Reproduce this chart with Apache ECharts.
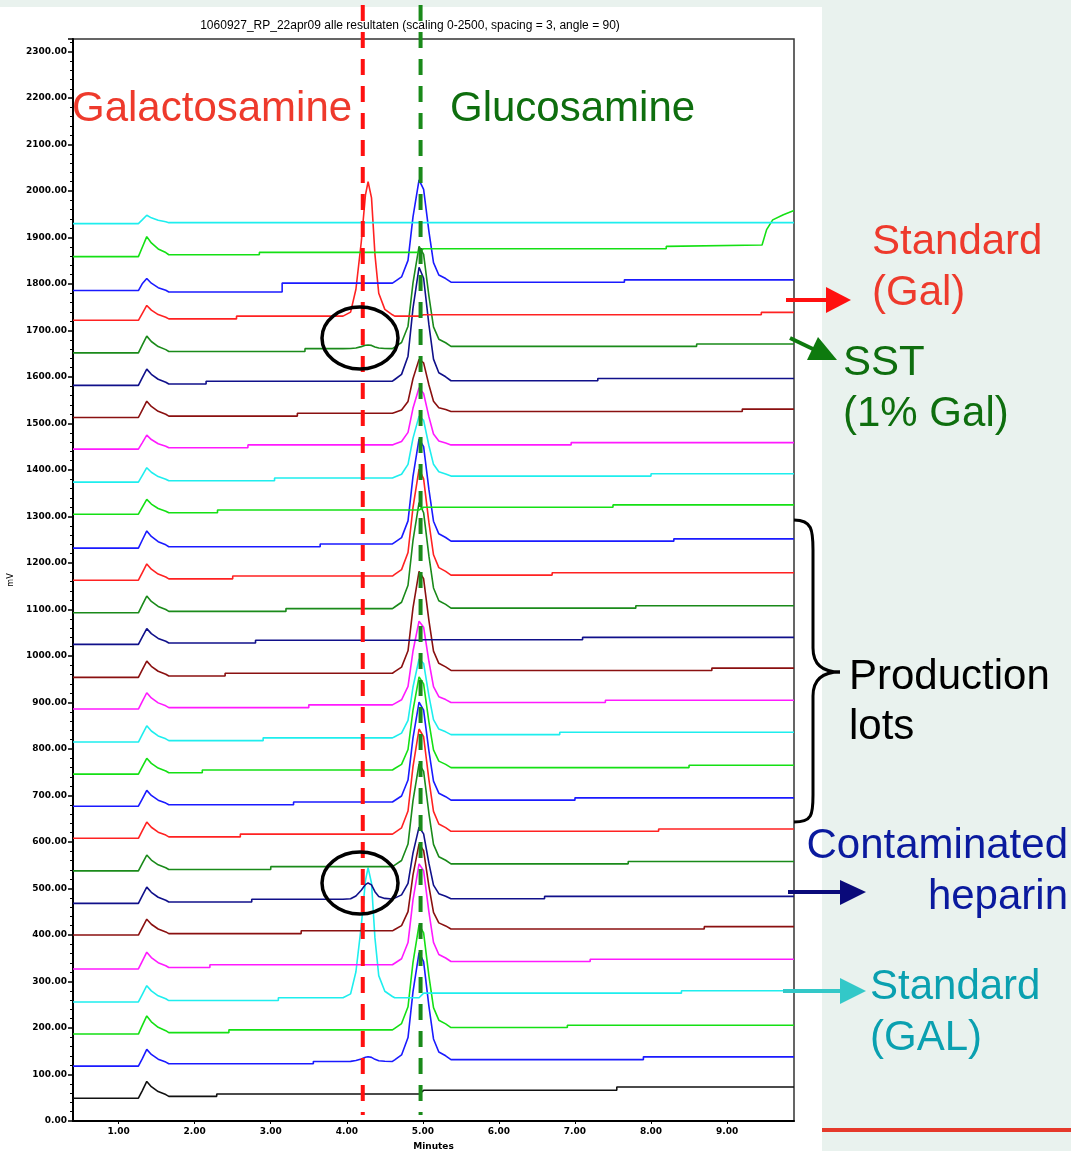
<!DOCTYPE html>
<html>
<head>
<meta charset="utf-8">
<title>Galactosamine / Glucosamine</title>
<script src="https://cdn.jsdelivr.net/npm/echarts@6/dist/echarts.min.js"></script>
<style>
html, body { margin: 0; padding: 0; background: #fff; }
#pic { width: 1071px; height: 1151px; }
</style>
</head>
<body>
<div id="pic"></div>
<script>
// x axis tick labels (minutes)
var xTicks = [1, 2, 3, 4, 5, 6, 7, 8, 9];

// one entry per chromatogram, bottom trace first
var traceColors = ['#111111', '#1a1aff', '#14e014', '#1eeeee', '#ff1aff', '#8a1010', '#10108a', '#1a8a1a', '#ff2222',
                   '#1a1aff', '#14e014', '#1eeeee', '#ff1aff', '#8a1010', '#10108a', '#1a8a1a', '#ff2222',
                   '#1a1aff', '#14e014', '#1eeeee', '#ff1aff', '#8a1010', '#10108a', '#1a8a1a', '#ff2222',
                   '#1a1aff', '#14e014', '#1eeeee'];
// baseline levels (mV): start, after first peak, after mid step, after glucosamine peak, end
var baseLeft  = [49, 118, 187, 256, 327, 400, 468, 538, 608, 677, 746, 815, 886, 954, 1025, 1093, 1163, 1232, 1305, 1374, 1445, 1513, 1582, 1652, 1722, 1786, 1859, 1930];
var baseEarly = [53, 123, 190, 259, 330, 403, 471, 541, 611, 680, 749, 818, 889, 957, 1028, 1096, 1166, 1235, 1308, 1377, 1448, 1516, 1585, 1655, 1725, 1783, 1863, 1932];
var baseMid   = [58, 128, 196, 265, 336, 409, 477, 547, 617, 686, 755, 824, 895, 963, 1034, 1102, 1172, 1241, 1314, 1383, 1454, 1522, 1591, 1661, 1731, 1802, 1868, 1932];
var baseLate  = [66, 132, 201, 275, 343, 413, 478, 553, 623, 690, 760, 831, 900, 969, 1035, 1103, 1174, 1247, 1320, 1387, 1454, 1526, 1592, 1666, 1734, 1804, 1876, 1932];
var baseRight = [73, 138, 206, 280, 348, 418, 483, 558, 628, 695, 765, 836, 905, 974, 1040, 1108, 1179, 1252, 1325, 1392, 1459, 1531, 1597, 1671, 1739, 1809, 1881, 1932];
// minutes where the baseline steps
var stepMid  = [2.29, 3.56, 2.45, 3.10, 2.20, 3.40, 2.75, 3.00, 2.60, 3.30, 2.10, 2.90, 3.50, 2.40, 2.80, 3.20, 2.50, 3.65, 2.30, 3.05, 2.70, 3.35, 2.15, 3.45, 2.55, 3.15, 2.85, 2.25];
var stepLate = [7.55, 7.90, 6.90, 8.40, 7.20, 8.70, 6.60, 7.70, 8.10, 7.00, 8.50, 6.80, 7.40, 8.80, 7.10, 7.80, 6.70, 8.30, 7.50, 8.00, 6.95, 9.20, 7.30, 8.60, 9.45, 7.65, 8.20, 9.00];
// peak heights above baseline (mV)
var earlyHeight = [32, 31, 36, 32, 33, 31, 32, 31, 32, 31, 31, 32, 32, 32, 31, 33, 32, 34, 29, 28, 27, 32, 32, 33, 29, 29, 39, 16];
var galHeight   = [0, 10, 0, 280, 0, 0, 35, 0, 0, 0, 0, 0, 0, 0, 0, 0, 0, 0, 0, 0, 0, 0, 0, 8, 289, 0, 0, 0];
var gluHeight   = [0, 234, 226, 0, 217, 187, 155, 221, 226, 215, 200, 170, 180, 219, 0, 228, 230, 226, 0, 133, 123, 116, 245, 220, 0, 222, 0, 0];

// peak profiles (fraction of peak height)
var earlyX = [1.26, 1.31, 1.37, 1.43, 1.52, 1.62, 1.66];
var earlyF = [0, 0.5, 1, 0.65, 0.32, 0.12, 0];
var galX = [3.95, 4.05, 4.12, 4.19, 4.245, 4.28, 4.325, 4.37, 4.42, 4.50, 4.60];
var galF = [0, 0.03, 0.2, 0.55, 0.9, 1, 0.88, 0.46, 0.17, 0.05, 0.01];
var gluX = [4.63, 4.72, 4.805, 4.87, 4.95, 5.01, 5.08, 5.14, 5.21, 5.30, 5.37];
var gluF = [0.015, 0.06, 0.22, 0.64, 1, 0.9, 0.49, 0.19, 0.07, 0.035, 0];
// rising end of the second trace from the top
var endRise = [[9.46, 1884], [9.52, 1917], [9.60, 1938], [9.74, 1949], [9.88, 1958]];

var galMinute = 4.21, gluMinute = 4.97;

function tracePoints(i) {
    var pts = [[0.4, baseLeft[i]]];
    earlyX.forEach(function (x, k) {
        var b = k < 2 ? baseLeft[i] : baseEarly[i];
        pts.push([x, b + earlyF[k] * earlyHeight[i]]);
    });
    pts.push([stepMid[i], baseEarly[i]], [stepMid[i], baseMid[i]]);
    galX.forEach(function (x, k) {
        pts.push([x, baseMid[i] + galF[k] * galHeight[i]]);
    });
    gluX.forEach(function (x, k) {
        var b = x <= 4.95 ? baseMid[i] : baseLate[i];
        pts.push([x, b + gluF[k] * gluHeight[i]]);
    });
    pts.push([stepLate[i], baseLate[i]], [stepLate[i], baseRight[i]]);
    if (i === 26) {
        endRise.forEach(function (p) { pts.push(p); });
    } else {
        pts.push([9.88, baseRight[i]]);
    }
    return pts;
}

var series = traceColors.map(function (c, i) {
    return {
        type: 'line',
        data: tracePoints(i),
        showSymbol: false,
        lineStyle: { color: c, width: 1.6 },
        z: 2
    };
});

var axisFont = { fontSize: 9, fontWeight: 'bold', color: '#000', fontFamily: 'DejaVu Sans' };

var myChart = echarts.init(document.getElementById('pic'));
var option = {
    backgroundColor: '#fff',
    animation: false,
    title: {
        text: '1060927_RP_22apr09 alle resultaten (scaling 0-2500, spacing = 3, angle = 90)',
        left: 405,
        top: 15,
        textAlign: 'center',
        textStyle: { fontSize: 12, fontWeight: 'normal', color: '#000', fontFamily: 'Liberation Sans' }
    },
    grid: { left: 73, right: 277, top: 39, bottom: 30, show: true, borderColor: '#333', borderWidth: 1.5, outerBoundsMode: 'none' },
    xAxis: {
        type: 'value',
        min: 0.4,
        max: 9.88,
        name: 'Minutes',
        nameLocation: 'middle',
        nameGap: 21,
        nameTextStyle: axisFont,
        axisLine: { onZero: false, lineStyle: { color: '#000', width: 2 } },
        axisTick: { show: true, customValues: xTicks, length: 3, lineStyle: { color: '#000' } },
        axisLabel: Object.assign({ customValues: xTicks, margin: 6, formatter: function (v) { return v.toFixed(2); } }, axisFont),
        splitLine: { show: false }
    },
    yAxis: {
        type: 'value',
        min: 0,
        max: 2327,
        interval: 100,
        name: 'mV',
        nameLocation: 'middle',
        nameRotate: 90,
        nameGap: 53,
        nameTextStyle: { fontSize: 8, color: '#000', fontFamily: 'DejaVu Sans' },
        axisLine: { show: true, lineStyle: { color: '#000', width: 2 } },
        axisTick: { show: true, length: 5, lineStyle: { color: '#000', width: 1.5 } },
        minorTick: { show: true, splitNumber: 5, length: 3, lineStyle: { color: '#000' } },
        axisLabel: Object.assign({ showMaxLabel: false, margin: 6, formatter: function (v) { return v.toFixed(2); } }, axisFont),
        splitLine: { show: false }
    },
    series: series
};
myChart.setOption(option);

function label(text, x, y, color, align) {
    return {
        type: 'text', x: x, y: y, z: 20,
        style: {
            text: text, fill: color, font: '42px "Liberation Sans", Arial, sans-serif',
            textAlign: align || 'left', align: align || 'left',
            textVerticalAlign: 'middle', verticalAlign: 'middle'
        }
    };
}
function arrow(x1, y1, x2, y2, head, color) {
    return [
        { type: 'line', z: 20, shape: { x1: x1, y1: y1, x2: x2, y2: y2 }, style: { stroke: color, lineWidth: 4 } },
        { type: 'polygon', z: 20, shape: { points: head }, style: { fill: color } }
    ];
}
function braceCurve(x1, y1, cpx1, cpy1, cpx2, cpy2, x2, y2) {
    return { type: 'bezierCurve', z: 20,
             shape: { x1: x1, y1: y1, cpx1: cpx1, cpy1: cpy1, cpx2: cpx2, cpy2: cpy2, x2: x2, y2: y2 },
             style: { fill: 'none', stroke: '#000', lineWidth: 3 } };
}
function braceLine(x1, y1, x2, y2) {
    return { type: 'line', z: 20, shape: { x1: x1, y1: y1, x2: x2, y2: y2 }, style: { stroke: '#000', lineWidth: 3 } };
}

var galPx = myChart.convertToPixel({ xAxisIndex: 0 }, galMinute);
var gluPx = myChart.convertToPixel({ xAxisIndex: 0 }, gluMinute);

var graphics = [
    // light panels around the chart
    { type: 'rect', z: 0, shape: { x: 822, y: 0, width: 249, height: 1151 }, style: { fill: '#e9f2ee' } },
    { type: 'rect', z: 0, shape: { x: 0, y: 0, width: 822, height: 7 }, style: { fill: '#e9f2ee' } },
    { type: 'rect', z: 1, shape: { x: 822, y: 1128, width: 249, height: 4 }, style: { fill: '#e5392a' } },
    // marker lines
    { type: 'line', z: 15, shape: { x1: galPx, y1: 5, x2: galPx, y2: 1115 }, style: { stroke: '#ff1010', lineWidth: 4, lineDash: [16, 11] } },
    { type: 'line', z: 15, shape: { x1: gluPx, y1: 5, x2: gluPx, y2: 1115 }, style: { stroke: '#1a8a1a', lineWidth: 4, lineDash: [16, 11] } },
    // circles
    { type: 'ellipse', z: 16, shape: { cx: 360, cy: 338, rx: 38, ry: 31 }, style: { fill: 'none', stroke: '#000', lineWidth: 3.5 } },
    { type: 'ellipse', z: 16, shape: { cx: 360, cy: 883, rx: 38, ry: 31 }, style: { fill: 'none', stroke: '#000', lineWidth: 3.5 } },
    // brace for the production lots
    braceCurve(794, 520, 812, 520, 813, 530, 813, 550),
    braceLine(813, 550, 813, 648),
    braceCurve(813, 648, 813, 664, 822, 672, 840, 672),
    braceCurve(840, 672, 822, 672, 813, 680, 813, 696),
    braceLine(813, 696, 813, 795),
    braceCurve(813, 795, 813, 815, 812, 822, 794, 822),
    label('Galactosamine', 72, 109, '#ee3a2c'),
    label('Glucosamine', 450, 109, '#0e6e0e'),
    label('Standard', 872, 242, '#ee3a2c'),
    label('(Gal)', 872, 293, '#ee3a2c'),
    label('SST', 843, 363, '#0e6e0e'),
    label('(1% Gal)', 843, 414, '#0e6e0e'),
    label('Production', 849, 677, '#000'),
    label('lots', 849, 727, '#000'),
    label('Contaminated', 1068, 846, '#0a1a9e', 'right'),
    label('heparin', 1068, 897, '#0a1a9e', 'right'),
    label('Standard', 870, 987, '#0aa0b0'),
    label('(GAL)', 870, 1038, '#0aa0b0')
];
graphics = graphics
    .concat(arrow(786, 300, 830, 300, [[826, 287], [851, 300], [826, 313]], '#ff1010'))
    .concat(arrow(790, 338, 815, 350, [[807, 360], [818, 337], [837, 360]], '#0e7a0e'))
    .concat(arrow(788, 892, 845, 892, [[840, 880], [866, 892], [840, 905]], '#0a0a7a'))
    .concat(arrow(783, 991, 845, 991, [[840, 978], [866, 991], [840, 1004]], '#33c8c8'));

myChart.setOption({ graphic: { elements: graphics } });
</script>
</body>
</html>
